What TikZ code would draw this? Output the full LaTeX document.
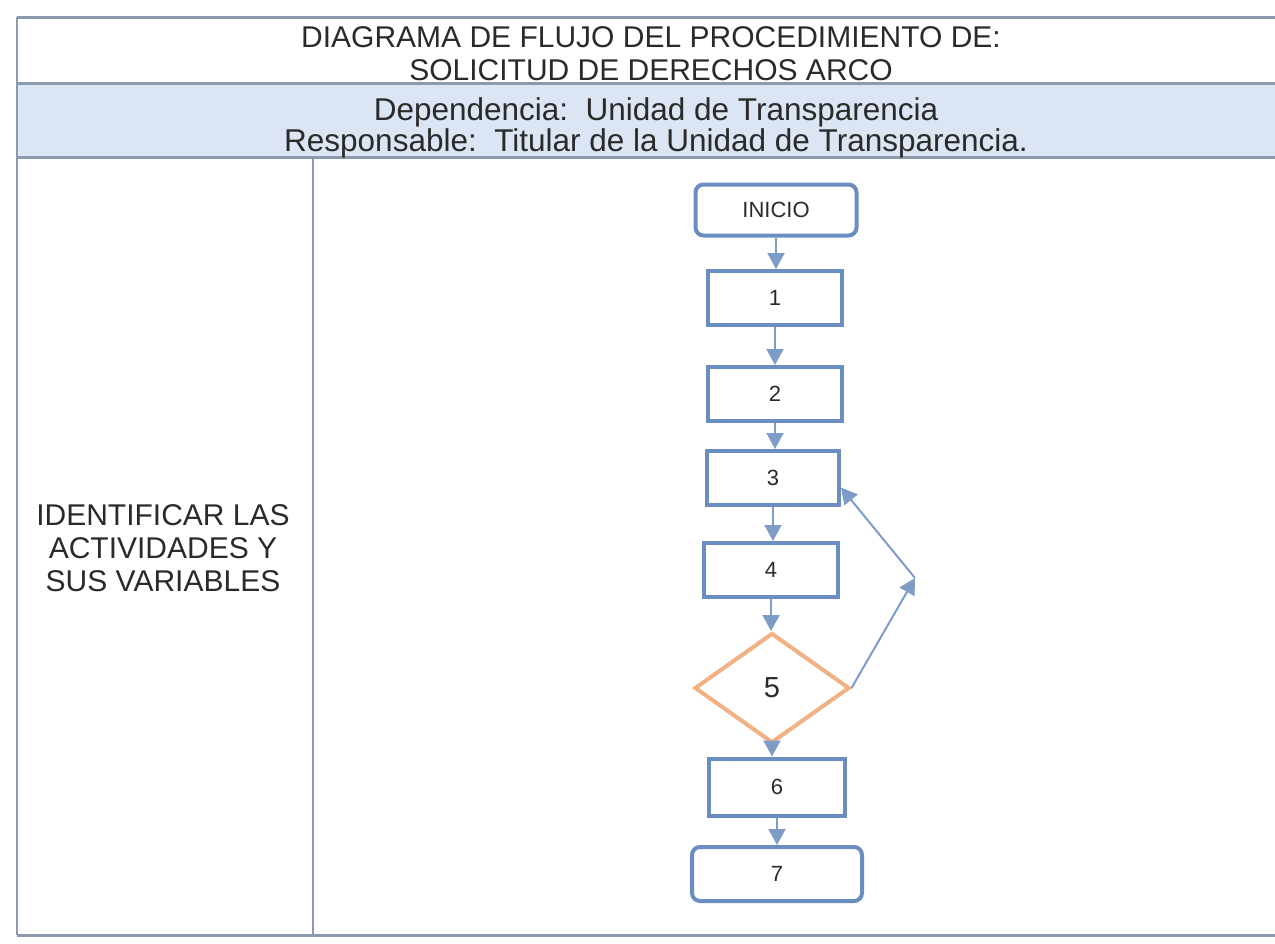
\documentclass[tikz,border=0pt]{standalone}
\usepackage{fontspec}
\setmainfont{Liberation Sans}
\usetikzlibrary{shapes.geometric,arrows.meta}
\definecolor{boxblue}{HTML}{6A8DC2}
\definecolor{arrowblue}{HTML}{7E9CC8}
\definecolor{frameline}{HTML}{8C9AB0}
\definecolor{bandfill}{HTML}{DCE5F3}
\definecolor{diaorange}{HTML}{F2B183}
\definecolor{txt}{HTML}{2A2A2A}
\tikzset{
  procbox/.style={draw=boxblue, line width=4pt, fill=white, minimum width=134pt, minimum height=54pt, inner sep=0pt, text=txt, font=\fontsize{22}{24}\selectfont},
  termbox/.style={procbox, rounded corners=8pt},
  decision/.style={diamond, draw=diaorange, line width=4pt, fill=white, minimum width=155pt, minimum height=110pt, inner sep=0pt, text=txt, font=\fontsize{29}{32}\selectfont},
  flow/.style={draw=arrowblue, line width=2pt, -{Triangle[width=17pt,length=16pt]}},
  frame/.style={draw=frameline, line width=3pt},
  vframe/.style={draw=frameline, line width=2pt},
  bigtext/.style={text=txt, font=\fontsize{30}{32}\selectfont, align=center, inner sep=0pt},
}
\begin{document}
\begin{tikzpicture}[x=1pt,y=-1pt]
\useasboundingbox (0,0) rectangle (1275,943);
% band
\fill[bandfill] (17,83) rectangle (1275,157);
% frame lines
\draw[frame] (17,17) -- (1275,17);
\draw[frame] (17,83) -- (1275,83);
\draw[frame] (17,157) -- (1275,157);
\draw[frame] (17,935) -- (1275,935);
\draw[vframe] (17,17) -- (17,935);
\draw[vframe] (313,157) -- (313,935);
% titles
\node[bigtext] (title) at (651,54) {DIAGRAMA DE FLUJO DEL PROCEDIMIENTO DE:\\[1pt]SOLICITUD DE DERECHOS ARCO};
\node[bigtext, font=\fontsize{31.5}{31}\selectfont] (dep) at (656,128) {Dependencia:\ \ Unidad de Transparencia\\Responsable:\ \ Titular de la Unidad de Transparencia.};
\node[bigtext, font=\fontsize{30}{33}\selectfont] (left) at (163,548) {IDENTIFICAR LAS\\ACTIVIDADES Y\\SUS VARIABLES};
% flowchart
\node[termbox, minimum width=161pt, minimum height=51pt] (inicio) at (776,210) {INICIO};
\node[procbox] (n1) at (775,298) {1};
\node[procbox] (n2) at (775,394) {2};
\node[procbox, minimum width=132pt] (n3) at (773,478) {3};
\node[procbox] (n4) at (771,570) {4};
\node[decision] (n5) at (772,688) {5};
\node[procbox, minimum width=136pt, minimum height=57pt] (n6) at (777,787) {6};
\node[termbox, minimum width=170pt] (n7) at (777,874) {7};
\coordinate (loop) at (915,578);
\draw[flow] (inicio.south) -- (inicio.south |- n1.north);
\draw[flow] (n1.south) -- (n2.north);
\draw[flow] (n2.south) -- (n2.south |- n3.north);
\draw[flow] (n3.south) -- (n3.south |- n4.north);
\draw[flow] (n4.south) -- (n4.south |- n5.north);
\draw[flow] (n5.south) -- (n5.south |- n6.north);
\draw[flow] (n6.south) -- (n7.north);
\draw[flow] (n5.east) -- (loop);
\draw[flow] (loop) -- (n3.-8);
\end{tikzpicture}
\end{document}
